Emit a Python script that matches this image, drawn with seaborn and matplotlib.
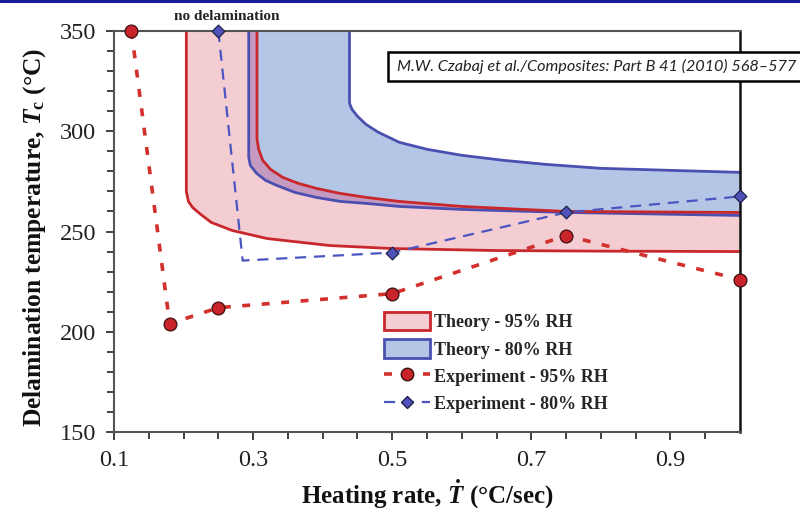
import matplotlib
matplotlib.use("Agg")
import matplotlib.pyplot as plt
import seaborn as sns
import numpy as np
from matplotlib.patches import Patch, Rectangle, Polygon
from matplotlib.lines import Line2D

# ---------------- data ----------------
# Theory 95% RH band boundaries
red_lo_x = [0.204, 0.204, 0.207, 0.213, 0.223, 0.24, 0.27, 0.32, 0.41, 0.5, 0.65, 0.8, 1.0]
red_lo_y = [350, 270, 265, 262, 259, 254.5, 250.5, 246.5, 243, 241.5, 240.5, 240.2, 240]
red_hi_x = [0.3056, 0.3056, 0.308, 0.3138, 0.325, 0.3425, 0.365, 0.391, 0.425, 0.463, 0.51, 0.6, 0.75, 1.0]
red_hi_y = [350, 296, 291, 285.5, 281, 277, 274, 271.5, 269, 267, 265, 262.5, 260, 259.5]
# Theory 80% RH band boundaries
blue_lo_x = [0.2937, 0.2937, 0.296, 0.305, 0.318, 0.334, 0.36, 0.391, 0.425, 0.463, 0.51, 0.6, 0.75, 1.0]
blue_lo_y = [350, 287, 283, 279, 275.5, 273, 269.5, 267, 265, 264, 262.5, 261, 259.5, 258]
blue_hi_x = [0.4386, 0.4386, 0.442, 0.45, 0.462, 0.48, 0.51, 0.55, 0.6, 0.66, 0.72, 0.8, 0.9, 1.0]
blue_hi_y = [350, 314, 311, 307.5, 303.5, 299.5, 294.5, 291, 288, 285.5, 283.5, 281.5, 280.5, 279.5]
# Experiments
exp95_x = [0.125, 0.18, 0.25, 0.5, 0.75, 1.0]
exp95_y = [350, 204, 212, 219, 248, 226]
exp80_x = [0.25, 0.285, 0.5, 0.75, 1.0]
exp80_y = [350, 235.5, 239.5, 259.5, 267.5]
exp80_marked = [True, False, True, True, True]

labels = ["Theory - 95% RH", "Theory - 80% RH", "Experiment - 95% RH", "Experiment - 80% RH"]
xticks = [0.1, 0.3, 0.5, 0.7, 0.9]
yticks = [150, 200, 250, 300, 350]

# ---------------- style ----------------
sns.set_theme(style="ticks")
plt.rcParams["font.family"] = ["Liberation Serif", "DejaVu Serif"]
plt.rcParams["mathtext.fontset"] = "custom"
plt.rcParams["mathtext.rm"] = "Liberation Serif:bold"
plt.rcParams["mathtext.it"] = "Liberation Serif:bold:italic"
plt.rcParams["mathtext.bf"] = "Liberation Serif:bold"

RED = "#c8282c"
BLUE = "#4b4fb0"
PINK = "#f4cdd3"
LBLUE = "#b3c6e5"

fig = plt.figure(figsize=(8, 5.08), dpi=100)
ax = fig.add_axes([114/800, 1-432/508, 626/800, 401/508])

# bands
red_poly = list(zip(red_lo_x + red_hi_x[::-1], red_lo_y + red_hi_y[::-1]))
blue_poly = list(zip(blue_lo_x + blue_hi_x[::-1], blue_lo_y + blue_hi_y[::-1]))
ax.fill(*zip(*red_poly), facecolor=PINK, edgecolor="none", zorder=1)
ax.fill(*zip(*blue_poly), facecolor=LBLUE, edgecolor="none", zorder=1.1)
# purple overlap where the two bands meet
ov = ax.fill(*zip(*red_poly), facecolor="#c98fb8", alpha=0.8, edgecolor="none", zorder=1.2)[0]
clip = Polygon(blue_poly, closed=True, transform=ax.transData)
ov.set_clip_path(clip)

for bx, by, c in [(red_lo_x, red_lo_y, RED), (blue_lo_x, blue_lo_y, BLUE),
                  (red_hi_x, red_hi_y, RED), (blue_hi_x, blue_hi_y, BLUE)]:
    sns.lineplot(x=bx, y=by, sort=False, estimator=None, color=c, lw=2.0, ax=ax, zorder=2)

# experiments
sns.lineplot(x=exp95_x, y=exp95_y, sort=False, estimator=None, color="#d2302c", lw=2.6,
             linestyle=(0, (2.2, 3.2)), ax=ax, zorder=3)
sns.lineplot(x=exp80_x, y=exp80_y, sort=False, estimator=None, color="#4b55c0", lw=1.6,
             linestyle=(0, (5, 3.5)), ax=ax, zorder=3)
sns.scatterplot(x=exp95_x, y=exp95_y, marker="o", s=85, color="#c8242a", edgecolor="#3a1010",
                linewidth=0.9, ax=ax, zorder=5, clip_on=False)
mx = [x for x, m in zip(exp80_x, exp80_marked) if m]
my = [y for y, m in zip(exp80_y, exp80_marked) if m]
sns.scatterplot(x=mx, y=my, marker="D", s=42, color="#4f52b8", edgecolor="#20204a",
                linewidth=0.9, ax=ax, zorder=5, clip_on=False)

ax.set_xlim(0.1, 1.0)
ax.set_ylim(150, 350)
ax.set_xticks(xticks)
ax.set_xticklabels([f"{v:.1f}" for v in xticks])
ax.set_xticks(np.arange(0.15, 1.0, 0.05), minor=True)
ax.set_yticks(yticks)
ax.set_yticks(np.arange(150, 351, 10), minor=True)
ax.tick_params(axis="both", which="major", labelsize=17.5, length=6, width=1.3, color="#333333",
               direction="out", labelcolor="#222222")
ax.tick_params(axis="both", which="minor", length=5, width=1.3, color="#333333", direction="out")
ax.tick_params(axis="x", pad=7)
ax.tick_params(axis="y", pad=7)
for s in ["left", "bottom", "top"]:
    ax.spines[s].set_color("#555555")
    ax.spines[s].set_linewidth(1.5)
ax.spines["right"].set_color("#111111")
ax.spines["right"].set_linewidth(1.8)
ax.spines["top"].set_visible(True)
ax.spines["right"].set_visible(True)

ax.set_xlabel(r"Heating rate, $\dot{T}$ (°C/sec)", fontsize=18, fontweight="bold", labelpad=4,
              color="#111111")
ax.set_ylabel(r"Delamination temperature, $T_\mathrm{c}$ (°C)", fontsize=18.4, fontweight="bold",
              color="#111111")
ax.yaxis.set_label_coords((48 - 114) / 626, (432 - 237) / 401)

fig.text(227/800, 1-17/508, "no delamination", fontsize=11, fontweight="bold", ha="center", va="center",
         color="#222222")

handles = [Patch(facecolor=PINK, edgecolor=RED, lw=2),
           Patch(facecolor=LBLUE, edgecolor=BLUE, lw=2),
           Line2D([], [], color="#d2302c", lw=2.6, linestyle=(0, (2.2, 3.2)), marker="o", ms=9,
                  mfc="#c8242a", mec="#3a1010"),
           Line2D([], [], color="#4b55c0", lw=1.6, linestyle=(0, (5, 3.5)), marker="D", ms=6,
                  mfc="#4f52b8", mec="#20204a")]
ax.legend(handles, labels, loc="upper left", bbox_to_anchor=(0.432, 0.3), frameon=False,
          prop={"family": "Liberation Serif", "weight": "bold", "size": 13},
          handlelength=2.5, handleheight=1.2, handletextpad=0.25, labelspacing=0.45,
          borderaxespad=0, borderpad=0)

# citation box
fig.patches.append(Rectangle((388/800, 1-81/508), 420/800, 29/508, transform=fig.transFigure,
                             facecolor="white", edgecolor="black", lw=1.8, zorder=10))
fig.text(397/800, 1-66/508, "M.W. Czabaj et al./Composites: Part B 41 (2010) 568–577",
         family="Lato", style="italic", fontsize=11.7, color="#222222", va="center", ha="left", zorder=11)

# top page rule
fig.add_artist(Line2D([0, 1], [1-1/508, 1-1/508], transform=fig.transFigure, color="#1a1a9a", lw=2.2))

fig.savefig("out.png", dpi=100)
